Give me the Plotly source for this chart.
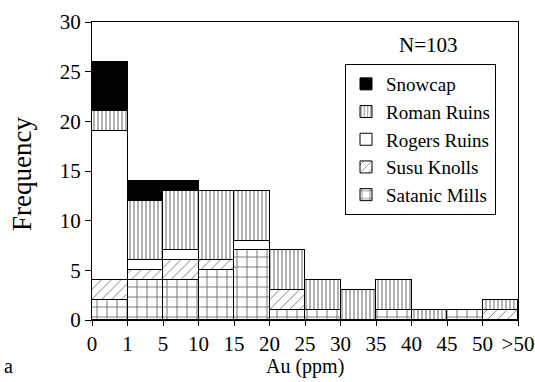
import plotly.graph_objects as go

bins = ["0-1", "1-5", "5-10", "10-15", "15-20", "20-25", "25-30",
        "30-35", "35-40", "40-45", "45-50", ">50"]
tick_labels = ["0", "1", "5", "10", "15", "20", "25", "30", "35", "40", "45", "50", ">50"]

satanic_mills = [2, 4, 4, 5, 7, 1, 1, 0, 1, 0, 1, 0]
susu_knolls   = [2, 1, 2, 1, 0, 2, 0, 0, 0, 0, 0, 1]
rogers_ruins  = [15, 1, 1, 0, 1, 0, 0, 0, 0, 0, 0, 0]
roman_ruins   = [2, 6, 6, 7, 5, 4, 3, 3, 3, 1, 0, 1]
snowcap       = [5, 2, 1, 0, 0, 0, 0, 0, 0, 0, 0, 0]

x_centers = [i + 0.5 for i in range(len(bins))]
FONT = "Liberation Serif"

series = [
    ("Satanic Mills", satanic_mills, dict(shape="+", size=10, solidity=0.2, fgcolor="black", bgcolor="white"), "white"),
    ("Susu Knolls", susu_knolls, dict(shape="/", size=7, solidity=0.14, fgcolor="black", bgcolor="white"), "white"),
    ("Rogers Ruins", rogers_ruins, None, "white"),
    ("Roman Ruins", roman_ruins, dict(shape="|", size=4, solidity=0.3, fgcolor="black", bgcolor="white"), "white"),
    ("Snowcap", snowcap, None, "black"),
]

fig = go.Figure()
for name, vals, pat, color in series:
    marker = dict(color=color, line=dict(color="black", width=1))
    if pat:
        marker["pattern"] = pat
    fig.add_trace(go.Bar(x=x_centers, y=vals, name=name, width=1, marker=marker))

fig.update_layout(
    width=535, height=382,
    margin=dict(l=92, r=17, t=22, b=62, autoexpand=False),
    barmode="stack", bargap=0,
    paper_bgcolor="white", plot_bgcolor="white",
    font=dict(family=FONT, size=20, color="black"),
    showlegend=True,
    legend=dict(
        x=(345 - 92) / 426, y=(320 - 64) / 298, xanchor="left", yanchor="top",
        traceorder="reversed",
        bordercolor="black", borderwidth=1, bgcolor="white",
        font=dict(family=FONT, size=19, color="black"),
        itemwidth=30, tracegroupgap=0,
    ),
    xaxis=dict(
        range=[0, 12], tickmode="array",
        tickvals=list(range(len(tick_labels))), ticktext=tick_labels,
        ticks="outside", ticklen=5, tickcolor="black",
        showline=True, linecolor="black", linewidth=1, mirror=True,
        showgrid=False, zeroline=False, automargin=False,
        tickfont=dict(family=FONT, size=21),
    ),
    yaxis=dict(
        range=[0, 30], tickvals=[0, 5, 10, 15, 20, 25, 30],
        ticks="outside", ticklen=6, tickcolor="black",
        showline=True, linecolor="black", linewidth=1, mirror=True,
        showgrid=False, zeroline=False, automargin=False,
        tickfont=dict(family=FONT, size=21),
    ),
    annotations=[
        dict(text="N=103", x=(428 - 92) / 426, y=(320 - 45) / 298, xref="paper", yref="paper",
             xanchor="center", yanchor="middle", showarrow=False, font=dict(family=FONT, size=21)),
        dict(text="Au (ppm)", x=0.5, y=(320 - 366) / 298, xref="paper", yref="paper",
             xanchor="center", yanchor="middle", showarrow=False, font=dict(family=FONT, size=20)),
        dict(text="Frequency", x=(22 - 92) / 426, y=(320 - 174) / 298, xref="paper", yref="paper",
             xanchor="center", yanchor="middle", textangle=-90, showarrow=False,
             font=dict(family=FONT, size=27)),
        dict(text="a", x=(8 - 92) / 426, y=(320 - 366) / 298, xref="paper", yref="paper",
             xanchor="center", yanchor="middle", showarrow=False, font=dict(family=FONT, size=20)),
    ],
)

fig.write_html("out.html")
